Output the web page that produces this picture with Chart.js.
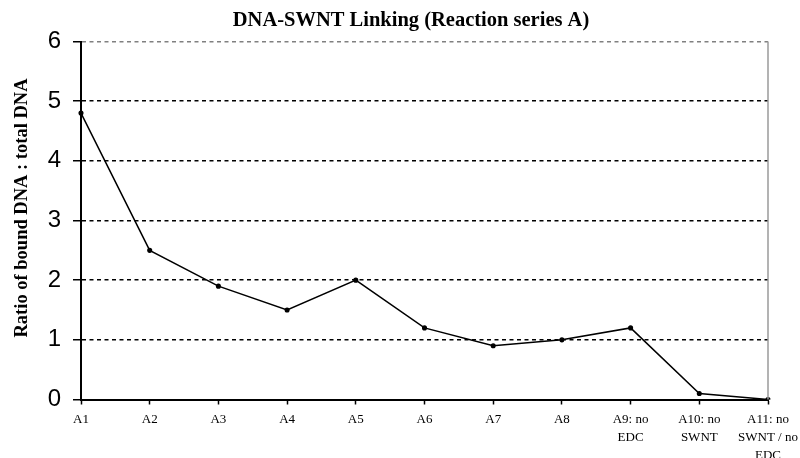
<!DOCTYPE html>
<html>
<head>
<meta charset="utf-8">
<script src="https://cdn.jsdelivr.net/npm/chart.js@4.4.1/dist/chart.umd.min.js"></script>
<style>
html,body{margin:0;padding:0;background:#fff;}
#wrap{width:800px;height:458px;position:relative;}
</style>
</head>
<body>
<div id="wrap"><canvas id="c" width="800" height="458"></canvas></div>
<script>
const categories = [
  'A1','A2','A3','A4','A5','A6','A7','A8',
  ['A9: no','EDC'],
  ['A10: no','SWNT'],
  ['A11: no','SWNT / no','EDC']
];
const ratioValues = [4.8, 2.5, 1.9, 1.5, 2.0, 1.2, 0.9, 1.0, 1.2, 0.1, 0.0];
const yTicks = [0, 1, 2, 3, 4, 5, 6];
const chartTitle = 'DNA-SWNT Linking (Reaction series A)';
const yTitle = 'Ratio of bound DNA : total DNA';

const textPlugin = {
  id: 'texts',
  afterDraw(chart) {
    const ctx = chart.ctx;
    const a = chart.chartArea;
    ctx.save();
    // right border
    ctx.strokeStyle = '#9a9a9a';
    ctx.lineWidth = 1.5;
    ctx.beginPath();
    ctx.moveTo(a.right, a.top);
    ctx.lineTo(a.right, a.bottom);
    ctx.stroke();
    // title
    ctx.fillStyle = '#000';
    ctx.font = 'bold 20.5px "Liberation Serif", "Times New Roman", serif';
    ctx.textAlign = 'center';
    ctx.textBaseline = 'middle';
    ctx.fillText(chartTitle, 411, 21);
    // y title
    ctx.font = 'bold 18.5px "Liberation Serif", "Times New Roman", serif';
    ctx.translate(22, 208);
    ctx.rotate(-Math.PI / 2);
    ctx.fillText(yTitle, 0, 0);
    ctx.restore();
  }
};

new Chart(document.getElementById('c'), {
  type: 'line',
  data: {
    labels: categories,
    datasets: [{
      data: ratioValues,
      borderColor: '#000',
      backgroundColor: '#000',
      borderWidth: 1.5,
      pointRadius: 1.8,
      pointHoverRadius: 1.8,
      tension: 0,
      fill: false
    }]
  },
  options: {
    responsive: false,
    animation: false,
    events: [],
    layout: { padding: { top: 41.5, right: 32, left: 0, bottom: 0 } },
    plugins: { legend: { display: false }, title: { display: false }, tooltip: { enabled: false } },
    scales: {
      x: {
        offset: false,
        afterFit(s) { s.height = 58.5; s.paddingRight = 0; s.paddingLeft = 0; },
        border: { display: true, color: '#000', width: 2 },
        grid: {
          drawOnChartArea: false,
          drawTicks: true,
          tickLength: 5,
          tickColor: '#000',
          tickWidth: 1.5
        },
        ticks: {
          color: '#000',
          padding: 6,
          maxRotation: 0,
          autoSkip: false,
          font: { family: '"Liberation Serif", "Times New Roman", serif', size: 13, lineHeight: 1.38 }
        }
      },
      y: {
        min: 0,
        max: 6,
        afterFit(s) { s.width = 81; s.paddingTop = 0; s.paddingBottom = 0; },
        afterBuildTicks(s) { s.ticks = yTicks.map(v => ({ value: v })); },
        border: { display: true, color: '#000', width: 2, dash: [4, 3.5] },
        grid: {
          drawOnChartArea: true,
          drawTicks: true,
          tickLength: 8,
          tickWidth: 1.5,
          tickColor: '#000',
          lineWidth: 1.5,
          color(ctx) {
            if (ctx.tick && ctx.tick.value === 6) return '#808080';
            if (ctx.tick && ctx.tick.value === 0) return 'rgba(0,0,0,0)';
            return '#000';
          }
        },
        ticks: {
          color: '#000',
          padding: 12,
          font: { family: '"Liberation Sans", Arial, sans-serif', size: 24 }
        }
      }
    }
  },
  plugins: [textPlugin]
});
</script>
</body>
</html>
